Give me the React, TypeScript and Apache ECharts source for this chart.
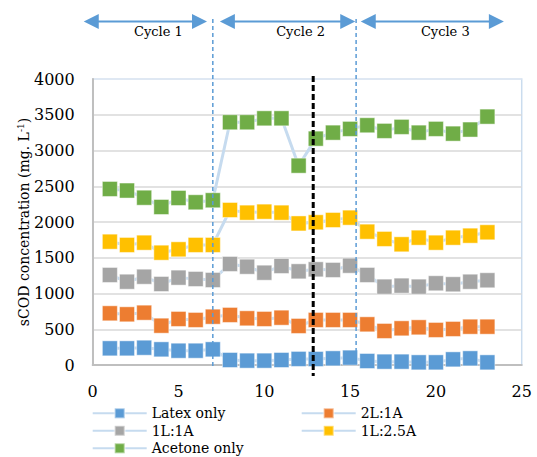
import { useEffect, useRef } from 'react';
import * as echarts from 'echarts';

const days = [1, 2, 3, 4, 5, 6, 7, 8, 9, 10, 11, 12, 13, 14, 15, 16, 17, 18, 19, 20, 21, 22, 23];
const latexOnly = [233, 233, 242, 219, 200, 200, 219, 70, 61, 61, 70, 85, 84, 93, 103, 56, 47, 47, 37, 37, 79, 93, 37];
const twoL1A = [723, 709, 732, 550, 644, 630, 676, 700, 653, 644, 662, 546, 630, 630, 630, 569, 476, 513, 527, 490, 504, 536, 536];
const oneL1A = [1259, 1165, 1235, 1133, 1222, 1203, 1189, 1413, 1375, 1291, 1385, 1310, 1338, 1329, 1389, 1259, 1096, 1110, 1096, 1143, 1129, 1165, 1185];
const oneL25A = [1725, 1679, 1711, 1571, 1618, 1679, 1679, 2168, 2131, 2145, 2131, 1980, 1996, 2028, 2061, 1865, 1763, 1688, 1781, 1711, 1781, 1809, 1856];
const acetoneOnly = [2462, 2440, 2340, 2210, 2336, 2276, 2304, 3395, 3395, 3450, 3450, 2788, 3166, 3250, 3302, 3353, 3274, 3330, 3250, 3302, 3236, 3293, 3474];

const seriesNames = ['Latex only', '2L:1A', '1L:1A', '1L:2.5A', 'Acetone only'];
const seriesColors = ['#5b9bd5', '#ed7d31', '#a5a5a5', '#ffc000', '#70ad47'];
const seriesValues = [latexOnly, twoL1A, oneL1A, oneL25A, acetoneOnly];

const cycleLabels = ['Cycle 1', 'Cycle 2', 'Cycle 3'];
const cycleStarts = [-0.52, 7.41, 15.62];
const cycleEnds = [6.66, 15.3, 23.96];
const cycleBoundaries = [7, 15.35];
const boundaryBottoms = [0, 200];
const shiftLineX = 12.85;

const FONT = 'DejaVu Serif';

// legend slots: column (0/1) and row (0..2) for each series
const legendCols = [0, 1, 0, 1, 0];
const legendRows = [0, 0, 1, 1, 2];

export default function App() {
  const ref = useRef<HTMLDivElement>(null);
  useEffect(() => {
    const chart = echarts.init(ref.current!, null, { renderer: 'svg' });
    const colLeft = [91.7, 300.7];
    const option: any = {
      animation: false,
      grid: {
        left: 92.7,
        right: 15.3,
        top: 79,
        bottom: 92,
        show: true,
        borderColor: '#cadcee',
        borderWidth: 1.5,
        backgroundColor: 'transparent',
      },
      xAxis: {
        type: 'value',
        min: 0,
        max: 25,
        interval: 5,
        axisLine: { show: true, lineStyle: { color: '#bfbfbf', width: 2 } },
        axisTick: { show: false },
        splitLine: { show: false },
        axisLabel: { fontFamily: FONT, fontSize: 16, color: '#000', margin: 18 },
      },
      yAxis: {
        type: 'value',
        min: 0,
        max: 4000,
        interval: 500,
        axisLine: { show: true, lineStyle: { color: '#bfbfbf', width: 2 } },
        axisTick: { show: false },
        splitLine: {
          show: true,
          lineStyle: {
            color: ['#d9d9d9', '#d9d9d9', '#d9d9d9', '#d9d9d9', '#d9d9d9', '#d9d9d9', '#d9d9d9', '#d9d9d9', '#e2eaf3'],
            width: 1.5,
          },
        },
        axisLabel: {
          fontFamily: FONT,
          fontSize: 16,
          color: '#000',
          margin: 18,
          padding: [6, 0, 0, 0],
          formatter: (v: number) => String(v),
        },
        name: '{a|sCOD concentration (mg. L}{s|-1}{a|)}',
        nameLocation: 'middle',
        nameRotate: 90,
        nameGap: 61,
        nameMoveOverlap: false,
        nameTextStyle: {
          fontFamily: FONT,
          fontSize: 14,
          color: '#000',
          rich: {
            a: { fontFamily: FONT, fontSize: 14, color: '#000' },
            s: { fontFamily: FONT, fontSize: 9, color: '#000', verticalAlign: 'top', padding: [0, 0, 6, 0] },
          },
        },
      },
      legend: seriesNames.map((name, i) => ({
        data: [name],
        orient: 'horizontal',
        left: colLeft[legendCols[i]],
        top: 406.3 + legendRows[i] * 17.5,
        itemWidth: 54,
        itemHeight: 12.5,
        padding: 0,
        textStyle: { fontFamily: FONT, fontSize: 14, color: '#000' },
      })),
      series: seriesNames.map((name, si) => ({
        type: 'line',
        name,
        data: days.map((d, i) => [d, seriesValues[si][i]]),
        symbol: 'rect',
        symbolSize: 15,
        lineStyle: { color: '#c6dbef', width: 3 },
        itemStyle: { color: seriesColors[si], borderColor: 'rgba(255,255,255,0.45)', borderWidth: 1 },
        emphasis: { disabled: true },
        z: 2,
      })),
    };
    chart.setOption(option);

    const px = (x: number, y: number) => chart.convertToPixel({ gridIndex: 0 }, [x, y]) as number[];
    const graphics: any[] = [];
    const arrowY = 21.5;
    const head = 15;
    const blue = '#5b9bd5';
    cycleLabels.forEach((label, i) => {
      const x1 = px(cycleStarts[i], 0)[0];
      const x2 = px(cycleEnds[i], 0)[0];
      graphics.push({
        type: 'line',
        shape: { x1: x1 + head - 1, y1: arrowY, x2: x2 - head + 1, y2: arrowY },
        style: { stroke: blue, lineWidth: 2 },
        silent: true,
      });
      graphics.push({
        type: 'polygon',
        shape: { points: [[x1, arrowY], [x1 + head, arrowY - 7.5], [x1 + head, arrowY + 7.5]] },
        style: { fill: blue },
        silent: true,
      });
      graphics.push({
        type: 'polygon',
        shape: { points: [[x2, arrowY], [x2 - head, arrowY - 7.5], [x2 - head, arrowY + 7.5]] },
        style: { fill: blue },
        silent: true,
      });
      graphics.push({
        type: 'text',
        x: (x1 + x2) / 2 + 13,
        y: 31.8,
        style: { text: label, fontFamily: FONT, fontSize: 13, fill: '#000', align: 'center', verticalAlign: 'middle' },
        silent: true,
      });
    });
    cycleBoundaries.forEach((bx, i) => {
      const bottom = px(bx, boundaryBottoms[i]);
      graphics.push({
        type: 'line',
        shape: { x1: bottom[0], y1: 19, x2: bottom[0], y2: boundaryBottoms[i] === 0 ? bottom[1] + 2 : bottom[1] + 3 },
        style: { stroke: blue, lineWidth: 1.5, lineDash: [4, 3] },
        silent: true,
        z: 10,
      });
    });
    const sTop = px(shiftLineX, 4000);
    const sBot = px(shiftLineX, 0);
    graphics.push({
      type: 'line',
      shape: { x1: sTop[0], y1: sTop[1] - 3, x2: sBot[0], y2: sBot[1] + 11 },
      style: { stroke: '#000', lineWidth: 3, lineDash: [6, 3] },
      silent: true,
      z: 10,
    });
    chart.setOption({ graphic: graphics });
    return () => chart.dispose();
  }, []);
  return <div ref={ref} style={{ position: 'absolute', left: 0, top: 0, width: 537, height: 457 }} />;
}
